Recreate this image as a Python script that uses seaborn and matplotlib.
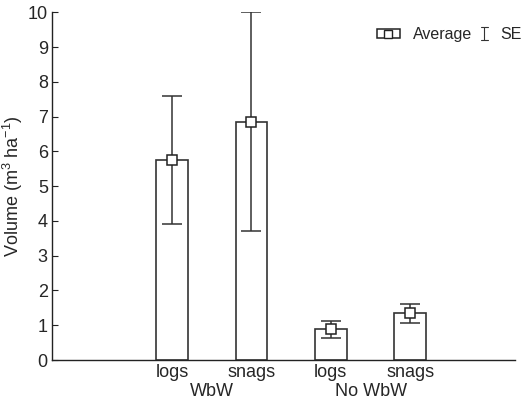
import numpy as np
import pandas as pd
import seaborn as sns
import matplotlib.pyplot as plt
from matplotlib.patches import Rectangle
from matplotlib.lines import Line2D
from matplotlib.legend_handler import HandlerTuple, HandlerBase

# data
groups = ["WbW", "WbW", "No WbW", "No WbW"]
kinds = ["logs", "snags", "logs", "snags"]
average = [5.75, 6.86, 0.88, 1.34]
se_upper = [7.58, 10.0, 1.12, 1.60]
se_lower = [3.92, 3.71, 0.63, 1.07]

sns.set_style("white")
plt.rcParams["font.family"] = ["Liberation Sans", "DejaVu Sans"]
plt.rcParams["mathtext.fontset"] = "custom"
plt.rcParams["mathtext.rm"] = "Liberation Sans"
plt.rcParams["mathtext.it"] = "Liberation Sans"


class IBeamHandler(HandlerBase):
    # draws a small error bar symbol for the legend, near the right of its slot
    def create_artists(self, legend, orig_handle, xdescent, ydescent,
                       width, height, fontsize, trans):
        cx = width - xdescent - 2
        h = 9
        y0 = -ydescent + (height - h) / 2
        cap = 2.5
        kw = dict(color="#333333", linewidth=0.8, transform=trans)
        return [Line2D([cx, cx], [y0, y0 + h], **kw),
                Line2D([cx - cap, cx + cap], [y0, y0], **kw),
                Line2D([cx - cap, cx + cap], [y0 + h, y0 + h], **kw)]


df = pd.DataFrame({"cat": [g + " " + k for g, k in zip(groups, kinds)],
                   "avg": average})

fig = plt.figure(figsize=(5.23, 4.05), dpi=100)
ax = fig.add_axes([0.0994, 0.111, 0.8856, 0.8586])

sns.barplot(data=df, x="cat", y="avg", color="white", edgecolor="#333333",
            linewidth=1.2, width=0.4, errorbar=None, ax=ax)

pos = np.arange(len(average))
yerr = [np.array(average) - np.array(se_lower), np.array(se_upper) - np.array(average)]
ax.errorbar(pos, average, yerr=yerr, fmt="none", ecolor="#333333",
            elinewidth=1.1, capsize=7, capthick=1.1)
ax.plot(pos, average, "s", markersize=7, markerfacecolor="white",
        markeredgecolor="#222222", markeredgewidth=1.1, zorder=5)

ax.set_xlim(-1.51, 4.32)
ax.set_ylim(0, 10)
ax.set_yticks(range(0, 11))
ax.set_xticks(pos)
ax.set_xticklabels(kinds, fontsize=13)
ax.set_xlabel("")
ax.set_ylabel("Volume (m$^3$ ha$^{-1}$)", fontsize=13, labelpad=2)
ax.tick_params(axis="y", direction="in", length=4, labelsize=13, left=True,
               color="#222222", pad=3)
ax.tick_params(axis="x", length=0, pad=3)

for s in ["top", "right"]:
    ax.spines[s].set_visible(False)
for s in ["left", "bottom"]:
    ax.spines[s].set_color("#222222")
    ax.spines[s].set_linewidth(1.0)

# group labels
trans = ax.get_xaxis_transform()
ax.text(0.5, -0.09, "WbW", transform=trans, ha="center", va="center", fontsize=13)
ax.text(2.5, -0.09, "No WbW", transform=trans, ha="center", va="center", fontsize=13)

# legend
box = Rectangle((0, 0), 1, 1, facecolor="white", edgecolor="#222222", linewidth=1.1)
sq = Line2D([], [], linestyle="none", marker="s", markersize=6,
            markerfacecolor="white", markeredgecolor="#222222")
se_handle = object()
ax.legend([(box, sq), se_handle], ["Average", "SE"],
          handler_map={tuple: HandlerTuple(ndivide=1, pad=0),
                       object: IBeamHandler()},
          loc="upper right", bbox_to_anchor=(1.027, 0.976), ncol=2, frameon=False,
          fontsize=11.5, handlelength=1.45, handleheight=0.45, handletextpad=0.8,
          columnspacing=-0.5, borderaxespad=0)

fig.savefig("out.png", dpi=100)
